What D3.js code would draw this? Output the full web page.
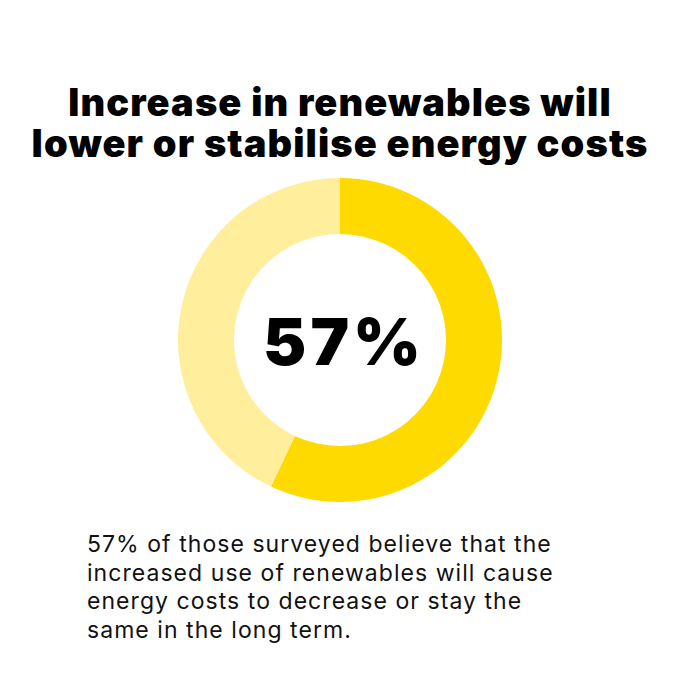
<!DOCTYPE html>
<html>
<meta charset="utf-8" />
<script src="https://d3js.org/d3.v7.min.js"></script>

<body>
    <style>
        body,
        html {
            margin: 0;
            padding: 0;
            background: #fff;
            overflow: hidden;
        }
    </style>

    <svg id="chart"></svg>

    <script>
        // share of respondents
        var labels = ["Lower or stabilise", "Other"];
        var values = [57, 43];
        var colors = ["#FFDA00", "#FFEE9B"];

        var titleLines = ["Increase in renewables will", "lower or stabilise energy costs"];
        var bodyLines = [
            "57% of those surveyed believe that the",
            "increased use of renewables will cause",
            "energy costs to decrease or stay the",
            "same in the long term."
        ];

        var width = 680, height = 680;
        var cx = 340, cy = 340, outerR = 162, innerR = 106;

        var svg = d3.select("#chart")
            .attr("width", width)
            .attr("height", height);

        // title as one text block, one tspan per line
        svg.append("text")
            .attr("text-anchor", "middle")
            .style("font-family", "Inter, 'Noto Sans', sans-serif")
            .style("font-weight", 900)
            .style("font-size", "38px")
            .style("letter-spacing", "1.1px")
            .attr("fill", "#000")
            .selectAll("tspan")
            .data(titleLines)
            .enter().append("tspan")
            .attr("x", width / 2)
            .attr("y", function (d, i) { return 116 + i * 40.5; })
            .text(function (d) { return d; });

        var pie = d3.pie().sort(null).value(function (d) { return d; });
        var arc = d3.arc().innerRadius(innerR).outerRadius(outerR);

        var g = svg.append("g").attr("transform", "translate(" + cx + "," + cy + ")");

        g.selectAll("path")
            .data(pie(values))
            .enter().append("path")
            .attr("d", arc)
            .attr("fill", function (d, i) { return colors[i]; });

        g.append("text")
            .attr("x", 4)
            .attr("y", 25)
            .attr("text-anchor", "middle")
            .style("font-family", "Inter, 'Noto Sans', sans-serif")
            .style("font-weight", 900)
            .style("font-size", "65px")
            .style("letter-spacing", "4px")
            .attr("fill", "#000")
            .text(values[0] + "%");

        svg.append("text")
            .style("font-family", "Inter, 'Noto Sans', sans-serif")
            .style("font-weight", 400)
            .style("font-size", "23px")
            .style("letter-spacing", "1.05px")
            .attr("fill", "#111")
            .selectAll("tspan")
            .data(bodyLines)
            .enter().append("tspan")
            .attr("x", 87)
            .attr("y", function (d, i) { return 552 + i * 28.5; })
            .text(function (d) { return d; });
    </script>
</body>

</html>
